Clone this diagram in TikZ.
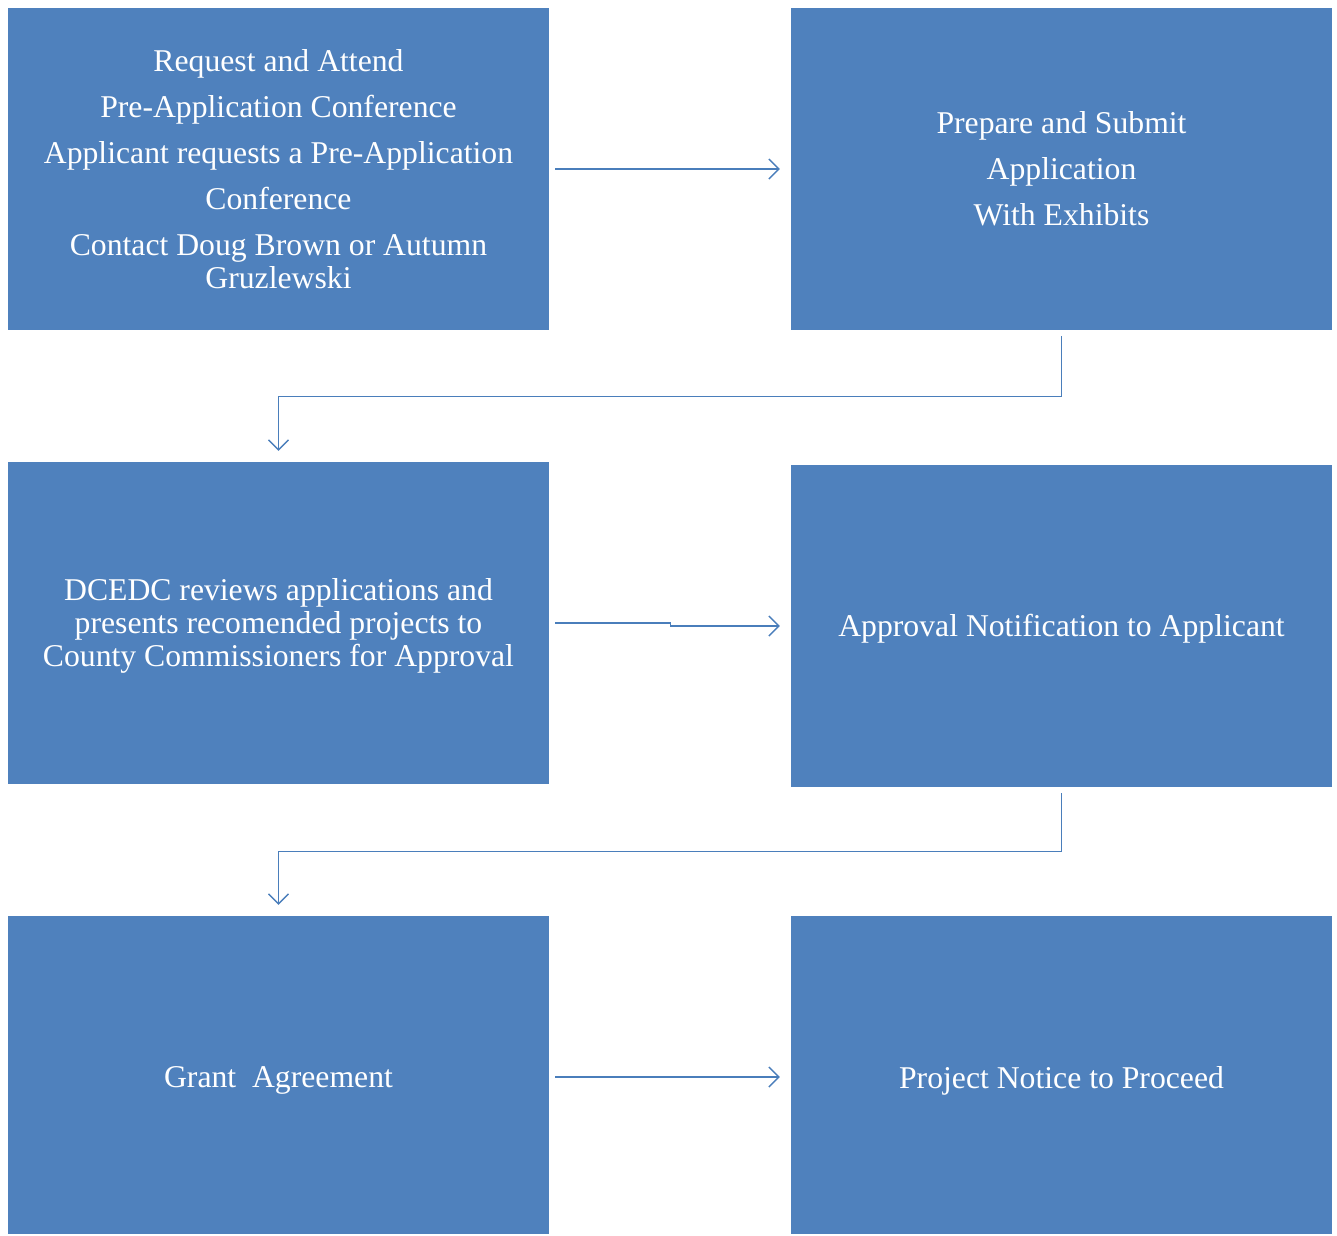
\documentclass[tikz,border=0pt]{standalone}
\usepackage{fontspec}
\setmainfont{Liberation Serif}
\usetikzlibrary{arrows.meta}
\definecolor{boxblue}{HTML}{4F81BD}
\definecolor{lineblue}{HTML}{4A7EBB}
\begin{document}
\begin{tikzpicture}[x=1pt,y=-1pt,
  stepbox/.style={fill=boxblue, draw=none, minimum width=541pt, minimum height=322pt, inner sep=0pt},
  steptext/.style={text=white, align=center, inner sep=0pt, font=\fontsize{31.7}{33}\selectfont},
  conn/.style={draw=lineblue, line width=1.4pt, -{Straight Barb[length=10pt,width=20pt]},
    shorten <=6pt, shorten >=11pt}]
\useasboundingbox (0,0) rectangle (1337,1235);
\node[stepbox] (b1) at (278.5,169) {};
\node[stepbox] (b2) at (1061.5,169) {};
\node[stepbox] (b3) at (278.5,623) {};
\node[stepbox] (b4) at (1061.5,626) {};
\node[stepbox, minimum height=318pt] (b5) at (278.5,1075) {};
\node[stepbox, minimum height=318pt] (b6) at (1061.5,1075) {};
\node[steptext] (t1) at (b1.center) {Request and Attend\\[13pt]Pre-Application Conference\\[13pt]Applicant requests a Pre-Application\\[13pt]Conference\\[13pt]Contact Doug Brown or Autumn\\Gruzlewski};
\node[steptext] (t2) at (b2.center) {Prepare and Submit\\[13pt]Application\\[13pt]With Exhibits};
\node[steptext, yshift=-3pt] (t3) at (b3.center) {DCEDC reviews applications and\\presents recomended projects to\\County Commissioners for Approval};
\node[steptext, yshift=-3pt] (t4) at (b4.center) {Approval Notification to Applicant};
\node[steptext, yshift=-5pt] (t5) at (b5.center) {Grant~~Agreement};
\node[steptext, yshift=-6pt] (t6) at (b6.center) {Project Notice to Proceed};
\draw[conn] (b1.east) -- (b2.west);
\draw[conn] (b2.south) -- ++(0,66) -| (b3.north);
\draw[conn] (b3.east) -- ++(121,0) |- (b4.west);
\draw[conn] (b4.south) -- ++(0,64) -| (b5.north);
\draw[conn] ([yshift=-2pt]b5.east) -- ([yshift=-2pt]b6.west);
\end{tikzpicture}
\end{document}
